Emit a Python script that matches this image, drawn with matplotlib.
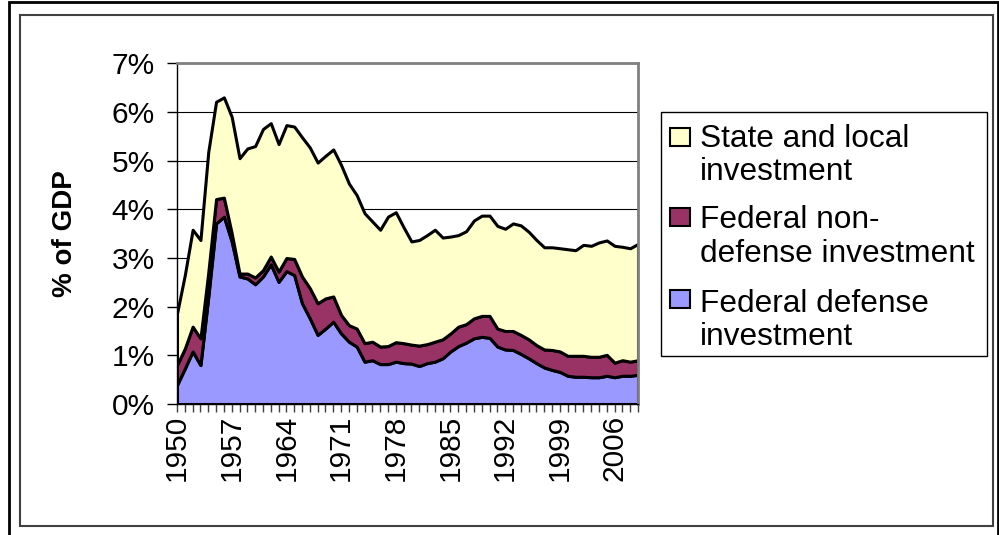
import matplotlib
matplotlib.use('Agg')
import matplotlib.pyplot as plt
import numpy as np
from matplotlib.patches import Rectangle

plt.rcParams['font.family'] = ['Liberation Sans', 'DejaVu Sans']

# Public investment, % of GDP, 1950-2009
years = np.arange(1950, 2010)

defense = [0.39, 0.73, 1.08, 0.80, 2.20, 3.71, 3.85, 3.34, 2.62, 2.58,
           2.46, 2.62, 2.87, 2.51, 2.73, 2.65, 2.07, 1.76, 1.42, 1.55,
           1.69, 1.45, 1.28, 1.18, 0.87, 0.90, 0.82, 0.82, 0.87, 0.84,
           0.83, 0.78, 0.84, 0.87, 0.94, 1.08, 1.19, 1.26, 1.35, 1.38,
           1.36, 1.18, 1.12, 1.11, 1.03, 0.94, 0.84, 0.75, 0.70, 0.66,
           0.58, 0.56, 0.56, 0.55, 0.55, 0.58, 0.55, 0.58, 0.58, 0.60]

nondefense = [0.41, 0.41, 0.51, 0.55, 0.50, 0.50, 0.39, 0.17, 0.06, 0.10,
              0.14, 0.13, 0.16, 0.21, 0.27, 0.33, 0.55, 0.62, 0.65, 0.62,
              0.52, 0.38, 0.34, 0.37, 0.38, 0.38, 0.36, 0.37, 0.40, 0.41,
              0.39, 0.42, 0.39, 0.41, 0.39, 0.37, 0.40, 0.38, 0.41, 0.43,
              0.45, 0.37, 0.38, 0.39, 0.39, 0.39, 0.37, 0.37, 0.41, 0.42,
              0.41, 0.43, 0.43, 0.42, 0.42, 0.43, 0.30, 0.32, 0.29, 0.30]

state_local = [1.06, 1.51, 1.99, 2.02, 2.48, 2.00, 2.06, 2.39, 2.37, 2.57,
               2.70, 2.90, 2.74, 2.62, 2.73, 2.72, 2.86, 2.89, 2.89, 2.93,
               3.02, 3.08, 2.91, 2.74, 2.67, 2.47, 2.40, 2.66, 2.67, 2.38,
               2.12, 2.17, 2.24, 2.30, 2.09, 1.99, 1.88, 1.91, 2.01, 2.06,
               2.06, 2.11, 2.10, 2.21, 2.25, 2.21, 2.16, 2.10, 2.11, 2.12,
               2.19, 2.17, 2.28, 2.28, 2.35, 2.35, 2.40, 2.33, 2.33, 2.39]

legend_lines = [['State and local', 'investment'],
                ['Federal non-', 'defense investment'],
                ['Federal defense', 'investment']]
legend_colors = ['#FFFFCC', '#993366', '#9999FF']
fill_colors = ['#9999FF', '#993366', '#FFFFCC']

W, H = 999, 535
fig = plt.figure(figsize=(W / 100, H / 100), dpi=100)


def fx(px):
    return px / W


def fy(py):
    return 1 - py / H


# Outer and inner chart frames
fig.add_artist(Rectangle((fx(9), fy(537)), fx(998) - fx(9), fy(2) - fy(537),
                         transform=fig.transFigure, fill=False,
                         edgecolor='black', linewidth=2))
fig.add_artist(Rectangle((fx(20), fy(526)), fx(993) - fx(20), fy(15) - fy(526),
                         transform=fig.transFigure, fill=False,
                         edgecolor='#404040', linewidth=1.5))

ax = fig.add_axes([fx(177), fy(404), fx(638) - fx(177), fy(63.3) - fy(404)])
ax.stackplot(years, defense, nondefense, state_local, colors=fill_colors,
             edgecolor='black', linewidth=2.2)

ax.set_xlim(1950, 2009)
ax.set_ylim(0, 7)
ax.set_yticks(range(8))
ax.set_yticklabels(['{}%'.format(i) for i in range(8)])
ax.set_xticks(years)
ax.set_xticklabels([str(y) if (y - 1950) % 7 == 0 else '' for y in years],
                   rotation=90)
ax.tick_params(axis='x', length=6, width=1, color='#404040', pad=2,
               labelsize=21.5)
ax.tick_params(axis='y', length=7, width=1, pad=9, labelsize=21.5)
ax.grid(axis='y', color='black', linewidth=0.8)
ax.set_axisbelow(True)

for side in ['top', 'right']:
    ax.spines[side].set_color('#808080')
    ax.spines[side].set_linewidth(2)
for side in ['left', 'bottom']:
    ax.spines[side].set_color('black')
    ax.spines[side].set_linewidth(1)

fig.text(fx(65), fy(233.7), '% of GDP', rotation=90, ha='center',
         va='center', fontsize=20, fontweight='bold')

# Legend drawn by hand so the swatch sits beside the first line
fig.add_artist(Rectangle((fx(661), fy(356)), fx(987) - fx(661), fy(112) - fy(356),
                         transform=fig.transFigure, facecolor='white',
                         edgecolor='black', linewidth=1))
swatch_tops = [128, 208, 290]
baselines = [146.7, 228, 311.7]
for lines, color, top, base in zip(legend_lines, legend_colors, swatch_tops, baselines):
    fig.add_artist(Rectangle((fx(670), fy(top + 18)), fx(690) - fx(670), fy(top) - fy(top + 18),
                             transform=fig.transFigure, facecolor=color,
                             edgecolor='black', linewidth=1.5))
    for k, line in enumerate(lines):
        fig.text(fx(700), fy(base + 33.5 * k), line, ha='left',
                 va='baseline', fontsize=22.8)

fig.savefig('out.png', dpi=100)
